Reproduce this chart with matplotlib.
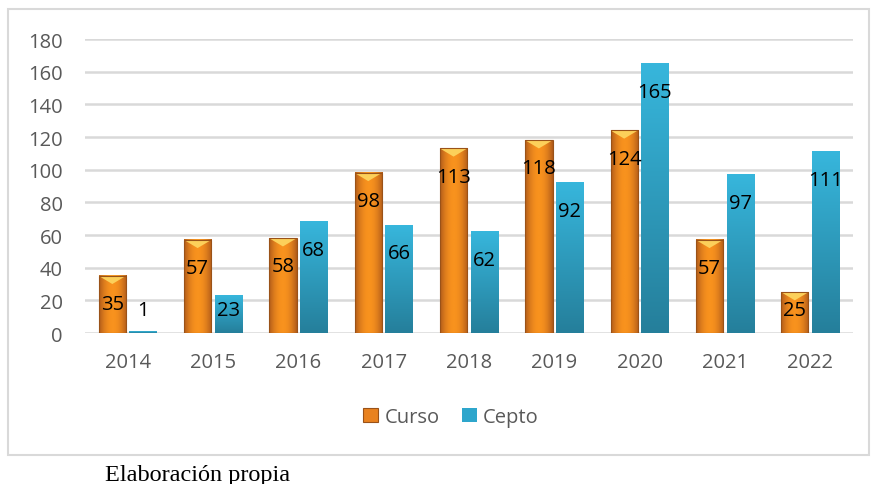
import numpy as np
import matplotlib.pyplot as plt
from matplotlib.patches import Polygon, Rectangle, Patch
from matplotlib.colors import to_rgb

years = ["2014", "2015", "2016", "2017", "2018", "2019", "2020", "2021", "2022"]
curso = [35, 57, 58, 98, 113, 118, 124, 57, 25]
cepto = [1, 23, 68, 66, 62, 92, 165, 97, 111]
y_ticks = [0, 20, 40, 60, 80, 100, 120, 140, 160, 180]

plt.rcParams["font.family"] = ["Open Sans", "DejaVu Sans"]

fig = plt.figure(figsize=(8.72, 4.85), dpi=100)
ax = fig.add_axes([0.0975, 0.3113, 0.8805, 0.6062])

x = np.arange(len(years))
w = 0.32
off = 0.18

b1 = ax.bar(x - off, curso, w, color="none", zorder=3)
b2 = ax.bar(x + off, cepto, w, color="none", zorder=3)


def ramp(c1, c2, n):
    a, b = np.array(to_rgb(c1)), np.array(to_rgb(c2))
    t = np.linspace(0, 1, n)[:, None]
    return a + (b - a) * t


# orange: darker edges, brighter middle (horizontal)
prof = np.abs(np.linspace(-1, 1, 64)) ** 2
orange = ramp("#f8921e", "#b05a1a", 64)[(prof * 63).astype(int)][None, :, :]
# blue: vertical ramp, dark at the bottom
blue = ramp("#257f9b", "#37b6dc", 64)[:, None, :]

for r in b1:
    x0, wd, h = r.get_x(), r.get_width(), r.get_height()
    ax.imshow(orange, extent=(x0, x0 + wd, 0, h), aspect="auto",
              origin="lower", zorder=3, interpolation="bilinear")
    ax.add_patch(Polygon([(x0, h), (x0 + wd, h), (x0 + wd / 2, h - 5)],
                         closed=True, color="#fcd05a", zorder=4, lw=0))
    ax.add_patch(Rectangle((x0, 0), wd, h, fill=False, ec="#9a5218",
                           lw=0.8, zorder=5))
for r in b2:
    x0, wd, h = r.get_x(), r.get_width(), r.get_height()
    ax.imshow(blue, extent=(x0, x0 + wd, 0, h), aspect="auto",
              origin="lower", zorder=3, interpolation="bilinear")

for xs, vals in ((x - off, curso), (x + off, cepto)):
    for xi, v in zip(xs, vals):
        ax.text(xi, max(v - 17.2, 14.0), str(v), ha="center", va="center",
                fontsize=14.5, color="black", zorder=6)

ax.set_xlim(-0.5, len(years) - 0.5)
ax.set_ylim(0, 180)
ax.set_yticks(y_ticks)
ax.set_xticks(x)
ax.set_xticklabels(years)
ax.tick_params(axis="both", length=0, labelsize=14.5, labelcolor="#595959")
ax.tick_params(axis="y", pad=16)
ax.tick_params(axis="x", pad=14)
ax.grid(axis="y", color="#d9d9d9", lw=1.8, zorder=0)
ax.set_axisbelow(True)
for s in ax.spines.values():
    s.set_visible(False)

handles = [Patch(facecolor="#e9821f", edgecolor="#9a5218", lw=0.8),
           Patch(facecolor="#2ea6cc")]
fig.legend(handles, ["Curso", "Cepto"], loc="center",
           bbox_to_anchor=(0.517, 0.138), ncol=2, frameon=False,
           fontsize=14.5, labelcolor="#595959", handlelength=0.75,
           handleheight=0.75, handletextpad=0.3, columnspacing=1.1)

fig.patches.append(Rectangle((8 / 872, 1 - 456 / 485), 861 / 872, 446 / 485,
                             transform=fig.transFigure, fill=False,
                             ec="#d9d9d9", lw=1.5))

fig.text(105 / 872, 1 - 476 / 485, "Elaboración propia", ha="left",
         va="center", fontsize=17.5, family=["Liberation Serif", "DejaVu Serif"])

fig.savefig("out.png", dpi=100)
